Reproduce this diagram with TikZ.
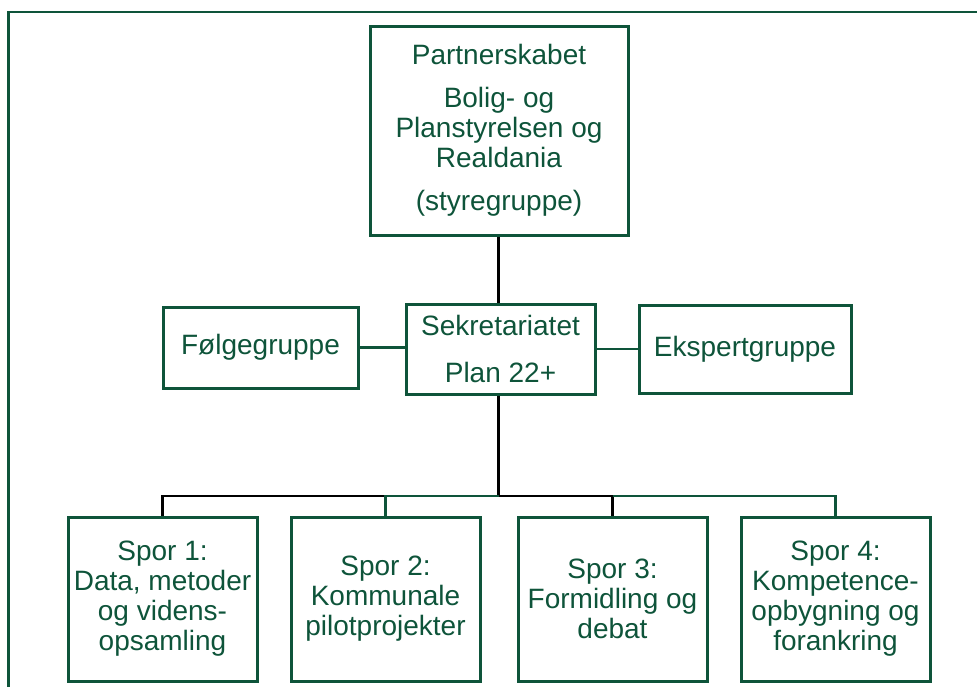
\documentclass[tikz,border=0pt]{standalone}
\usepackage{fontspec}
\setmainfont{Liberation Sans}
\definecolor{dgreen}{RGB}{14,84,58}
\begin{document}
\begin{tikzpicture}[x=1pt,y=-1pt,
  box/.style={draw=dgreen,line width=3pt,text=dgreen,align=center,inner sep=0pt,
    font=\fontsize{28}{30}\selectfont},
  gline/.style={draw=dgreen,line width=2.5pt},
  kline/.style={draw=black,line width=2.5pt}]
\useasboundingbox (0,0) rectangle (977,686);
% frame
\draw[dgreen,line width=2.2pt] (8.5,690) -- (8.5,12) -- (980,12);
% nodes
\node[box,minimum width=258pt,minimum height=209pt] (part) at (499,130.5)
  {Partnerskabet\\[13pt]Bolig- og\\Planstyrelsen og\\Realdania\\[13pt](styregruppe)};
\node[box,minimum width=189pt,minimum height=90pt] (sek) at (500.5,349)
  {Sekretariatet\\[17pt]Plan 22+};
\node[box,minimum width=195pt,minimum height=81pt] (folg) at (260.5,347.5) {Følgegruppe};
\node[box,minimum width=212pt,minimum height=88pt] (eksp) at (745,349) {Ekspertgruppe};
\node[box,minimum width=189pt,minimum height=164pt] (s1) at (162.5,599)
  {Spor 1:\\Data, metoder\\og videns-\\opsamling};
\node[box,minimum width=189pt,minimum height=164pt] (s2) at (385.5,599)
  {Spor 2:\\Kommunale\\pilotprojekter};
\node[box,minimum width=189pt,minimum height=164pt] (s3) at (612.5,599)
  {Spor 3:\\Formidling og\\debat};
\node[box,minimum width=189pt,minimum height=164pt] (s4) at (835.5,599)
  {Spor 4:\\Kompetence-\\opbygning og\\forankring};
% connectors
\coordinate (bus) at (498.5,496);
\draw[kline] (part.south -| bus) -- (sek.north -| bus);
\draw[kline] (sek.south -| bus) -- (bus);
\draw[gline] (folg.east) -- (folg.east -| sek.west);
\draw[gline] (sek.east |- eksp.west) -- (eksp.west);
\draw[kline] (s1.north) -- (s1.north |- bus) -- (s2.north |- bus);
\draw[gline] (s2.north) -- (s2.north |- bus) -- (bus);
\draw[kline] (s3.north) -- (s3.north |- bus) -- (bus);
\draw[gline] (s3.north |- bus) -- (s4.north |- bus) -- (s4.north);
\end{tikzpicture}
\end{document}
